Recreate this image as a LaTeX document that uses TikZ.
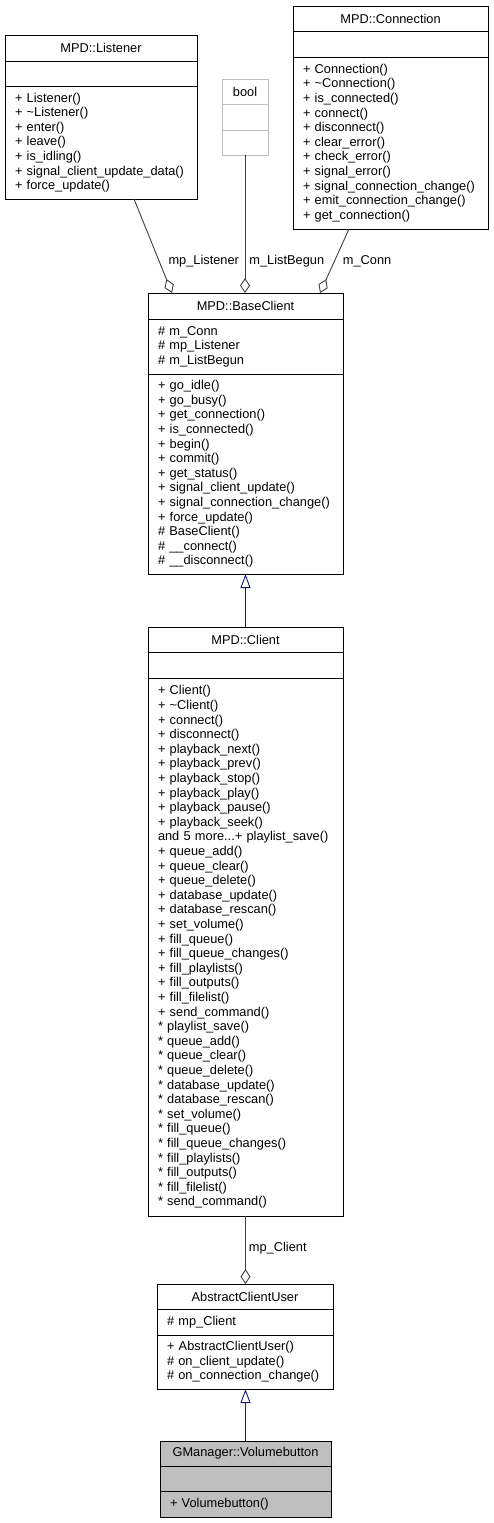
\documentclass[tikz,border=0pt]{standalone}
\usepackage{fontspec}
\setmainfont{Liberation Sans}
\usepackage{xcolor}
\usetikzlibrary{arrows.meta, positioning}

\definecolor{edgegray}{HTML}{404040}
\definecolor{inhblue}{HTML}{191970}
\definecolor{nodegray}{HTML}{BFBFBF}

\begin{document}
\begin{tikzpicture}[
    x=1pt, y=-1pt,
    node distance=0pt,
    box/.style={draw, fill=white, line width=0.9pt, outer sep=0pt, inner ysep=0pt, font=\fontsize{12.8}{14.6}\selectfont},
    head/.style={box, align=center, inner xsep=2pt},
    body/.style={box, align=left, inner xsep=10pt},
    lbl/.style={anchor=west, inner sep=2pt, font=\fontsize{12.8}{14.6}\selectfont},
    aggr/.style={draw=edgegray, line width=0.9pt, -{Diamond[open, length=15pt, width=10pt]}},
    inherit/.style={draw=inhblue, line width=0.9pt, -{Triangle[open, length=14pt, width=10pt]}}
]

\fill[white] (0,0) rectangle (493,1523);
\useasboundingbox (0,0) rectangle (493,1523);

% MPD::Listener
\node[head, text width=188pt, minimum height=26pt, anchor=north] (lis) at (101,35) {MPD::Listener};
\node[body, text width=172pt, minimum height=25pt, below=of lis] (lis-a) {};
\node[body, text width=172pt, minimum height=113pt, below=of lis-a] (lis-m) {+ Listener()\\+ \textasciitilde Listener()\\+ enter()\\+ leave()\\+ is\_idling()\\+ signal\_client\_update\_data()\\+ force\_update()};

% bool
\node[head, draw=nodegray, text width=42pt, minimum height=25pt, anchor=north] (bool) at (245,79) {bool};
\node[body, draw=nodegray, text width=26pt, minimum height=26pt, below=of bool] (bool-a) {};
\node[body, draw=nodegray, text width=26pt, minimum height=25pt, below=of bool-a] (bool-m) {};

% MPD::Connection
\node[head, text width=191pt, minimum height=25pt, anchor=north] (con) at (390.5,6) {MPD::Connection};
\node[body, text width=175pt, minimum height=26pt, below=of con] (con-a) {};
\node[body, text width=175pt, minimum height=172pt, below=of con-a] (con-m) {+ Connection()\\+ \textasciitilde Connection()\\+ is\_connected()\\+ connect()\\+ disconnect()\\+ clear\_error()\\+ check\_error()\\+ signal\_error()\\+ signal\_connection\_change()\\+ emit\_connection\_change()\\+ get\_connection()};

% MPD::BaseClient
\node[head, text width=191pt, minimum height=26pt, anchor=north] (bc) at (245.5,293) {MPD::BaseClient};
\node[body, text width=175pt, minimum height=55pt, below=of bc] (bc-a) {\# m\_Conn\\\# mp\_Listener\\\# m\_ListBegun};
\node[body, text width=175pt, minimum height=200pt, below=of bc-a] (bc-m) {+ go\_idle()\\+ go\_busy()\\+ get\_connection()\\+ is\_connected()\\+ begin()\\+ commit()\\+ get\_status()\\+ signal\_client\_update()\\+ signal\_connection\_change()\\+ force\_update()\\\# BaseClient()\\\# \_\_connect()\\\# \_\_disconnect()};

% MPD::Client
\node[head, text width=191pt, minimum height=25pt, anchor=north] (cl) at (245.5,627) {MPD::Client};
\node[body, text width=175pt, minimum height=26pt, below=of cl] (cl-a) {};
\node[body, text width=175pt, minimum height=538pt, below=of cl-a] (cl-m) {+ Client()\\+ \textasciitilde Client()\\+ connect()\\+ disconnect()\\+ playback\_next()\\+ playback\_prev()\\+ playback\_stop()\\+ playback\_play()\\+ playback\_pause()\\+ playback\_seek()\\and 5 more...+ playlist\_save()\\+ queue\_add()\\+ queue\_clear()\\+ queue\_delete()\\+ database\_update()\\+ database\_rescan()\\+ set\_volume()\\+ fill\_queue()\\+ fill\_queue\_changes()\\+ fill\_playlists()\\+ fill\_outputs()\\+ fill\_filelist()\\+ send\_command()\\{*} playlist\_save()\\{*} queue\_add()\\{*} queue\_clear()\\{*} queue\_delete()\\{*} database\_update()\\{*} database\_rescan()\\{*} set\_volume()\\{*} fill\_queue()\\{*} fill\_queue\_changes()\\{*} fill\_playlists()\\{*} fill\_outputs()\\{*} fill\_filelist()\\{*} send\_command()};

% AbstractClientUser
\node[head, text width=172pt, minimum height=25pt, anchor=north] (acu) at (245,1284) {AbstractClientUser};
\node[body, text width=156pt, minimum height=26pt, below=of acu] (acu-a) {\# mp\_Client};
\node[body, text width=156pt, minimum height=54pt, below=of acu-a] (acu-m) {+ AbstractClientUser()\\\# on\_client\_update()\\\# on\_connection\_change()};

% GManager::Volumebutton
\node[head, fill=nodegray, text width=167pt, minimum height=25pt, anchor=north] (vb) at (245.5,1441) {GManager::Volumebutton};
\node[body, fill=nodegray, text width=151pt, minimum height=25pt, below=of vb] (vb-a) {};
\node[body, fill=nodegray, text width=151pt, minimum height=26pt, below=of vb-a] (vb-m) {+ Volumebutton()};

% relations
\draw[aggr] ([xshift=33pt]lis-m.south) -- ([xshift=-73.5pt]bc.north) node[lbl, pos=0.66, xshift=7pt] (lbl-lis) {mp\_Listener};
\draw[aggr] (bool-m.south) -- (bool-m.south |- bc.north) node[lbl, pos=0.77, xshift=2pt] (lbl-bool) {m\_ListBegun};
\draw[aggr] ([xshift=-41.5pt]con-m.south) -- ([xshift=74.5pt]bc.north) node[lbl, pos=0.5, xshift=6pt] (lbl-con) {m\_Conn};
\draw[inherit] (cl.north) -- (bc-m.south);
\draw[aggr] (cl-m.south) -- (cl-m.south |- acu.north) node[lbl, pos=0.48, xshift=1pt] (lbl-cl) {mp\_Client};
\draw[inherit] (vb.north) -- (vb.north |- acu-m.south);

\end{tikzpicture}
\end{document}
